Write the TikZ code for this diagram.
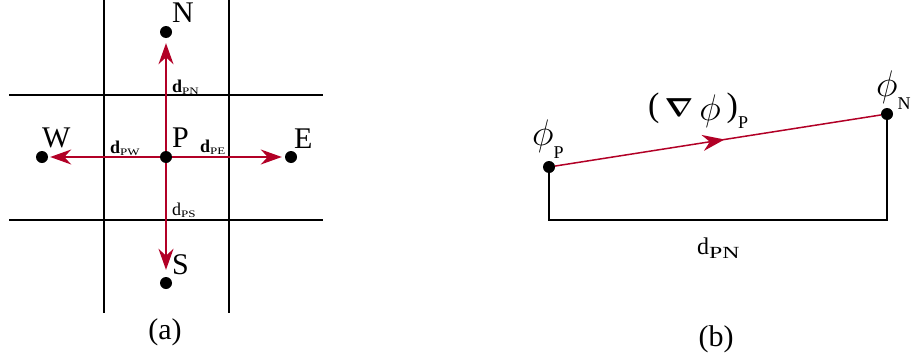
\RequirePackage{fix-cm}
\documentclass[tikz,border=0pt]{standalone}
\usepackage{amsmath}
\usepackage{fontspec}
\usepackage{graphicx}
\setmainfont{Liberation Serif}
\usetikzlibrary{arrows.meta,decorations.markings}
\definecolor{vecred}{RGB}{178,0,38}
\newcommand{\bigphi}{{\fontsize{37}{37}\selectfont$\phi$}}
\newcommand{\wsub}[4]{\raisebox{-#1}{\fontsize{#2}{#2}\selectfont\scalebox{#3}[1]{#4}}}
\newcommand{\bigparen}[1]{{\fontsize{34}{34}\selectfont #1}}
\begin{document}
\begin{tikzpicture}[x=1pt,y=-1pt,
  gridline/.style={line width=1.3pt,black},
  ptdot/.style={circle,fill=black,inner sep=0pt,minimum size=12pt},
  vec/.style={draw=vecred,line width=1.5pt,-{Stealth[length=21pt,width=15pt]}},
  biglab/.style={font=\fontsize{30}{30}\selectfont,inner sep=0pt,anchor=base west},
  smalllab/.style={font=\fontsize{18}{18}\selectfont,inner sep=0pt,anchor=base west},
  caplab/.style={font=\fontsize{30}{30}\selectfont,inner sep=0pt,anchor=base}]
\useasboundingbox (0,0) rectangle (912,356);
% ---------- (a) ----------
\draw[gridline] (104,0) -- (104,313);
\draw[gridline] (229,0) -- (229,313);
\draw[gridline] (9,95) -- (323,95);
\draw[gridline] (9,220) -- (323,220);
\node[ptdot] (P) at (166,157) {};
\node[ptdot] (N) at (166,32) {};
\node[ptdot] (S) at (166,283) {};
\node[ptdot] (W) at (42,157) {};
\node[ptdot] (E) at (291,157) {};
\draw[vec,shorten >=5pt] (P) -- (N);
\draw[vec,shorten >=2pt] (P) -- (W);
\draw[vec,shorten >=3pt] (P) -- (E);
\draw[vec,shorten >=7pt] (P) -- (S);
\node[biglab] (Nlab) at (172,23) {N};
\node[biglab] (Slab) at (172,274) {S};
\node[biglab] (Wlab) at (42,147) {W};
\node[biglab] (Elab) at (294,148) {E};
\node[biglab] (Plab) at (172,147) {P};
\node[smalllab] (dpn) at (172,92) {\textbf{d}\wsub{2pt}{10}{1.3}{PN}};
\node[smalllab] (dpw) at (110,153) {\textbf{d}\wsub{2pt}{10}{1.3}{PW}};
\node[smalllab] (dpe) at (200,152) {\textbf{d}\wsub{2pt}{10}{1.3}{PE}};
\node[smalllab] (dps) at (172,215) {d\wsub{2pt}{10}{1.3}{PS}};
\node[caplab] (capa) at (165,339) {(a)};
% ---------- (b) ----------
\node[ptdot] (Pb) at (549,167) {};
\node[ptdot] (Nb) at (887,114) {};
\coordinate (corner) at (887,220);
\draw[gridline] (Pb) |- (corner) -- (Nb);
\draw[vecred,line width=1.5pt,postaction={decorate},
  decoration={markings,mark=at position 0.52 with {\arrow{Stealth[length=22pt,width=16pt]}}}]
  (Pb) -- (Nb);
\node[inner sep=0pt,anchor=base west] (phip) at (532,145)
  {\bigphi\raisebox{-13pt}{\fontsize{18}{18}\selectfont P}};
\node[inner sep=0pt,anchor=base west] (phin) at (876,96)
  {\bigphi\raisebox{-13pt}{\fontsize{18}{18}\selectfont N}};
\node[inner sep=0pt,anchor=base west] (grad) at (648,116)
  {\bigparen{(}\hspace{5pt}\scalebox{3.0}[2.6]{$\boldsymbol{\nabla}$}\hspace{6pt}\raisebox{-4pt}{\bigphi}\hspace{6pt}\bigparen{)}\raisebox{-12pt}{\fontsize{18}{18}\selectfont P}};
\node[inner sep=0pt,anchor=base west,font=\fontsize{24}{24}\selectfont] (dpnb) at (697,254)
  {d\wsub{4pt}{17}{1.4}{PN}};
\node[caplab] (capb) at (716,346) {(b)};
\end{tikzpicture}
\end{document}
